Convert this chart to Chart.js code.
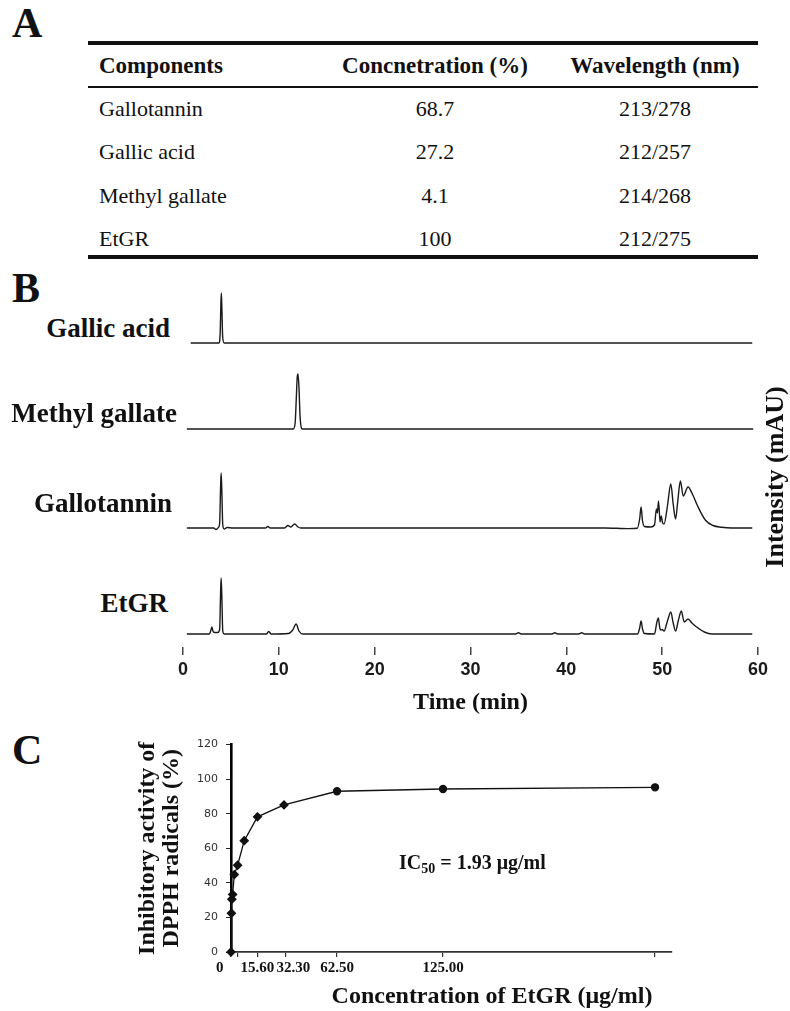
<!DOCTYPE html>
<html>
<head>
<meta charset="utf-8">
<script src="https://cdn.jsdelivr.net/npm/chart.js@4.4.1/dist/chart.umd.min.js"></script>
<style>
  html, body { margin: 0; padding: 0; background: #ffffff; }
  body { width: 790px; height: 1011px; position: relative; overflow: hidden;
         font-family: "Liberation Serif", "Times New Roman", serif; color: #111; }
  .t { position: absolute; white-space: nowrap; }
  .rule { position: absolute; background: #111; left: 88px; width: 670px; }
  canvas { position: absolute; }
  sub { font-size: 0.7em; vertical-align: -0.25em; line-height: 0; }
</style>
</head>
<body>
<canvas id="chartB" width="620" height="440" style="left:170px;top:280px;"></canvas>
<canvas id="chartC" width="560" height="281" style="left:130px;top:730px;"></canvas>
<script>
// ---------------- Panel A: table ----------------
const tableHeaders = ["Components", "Concnetration (%)", "Wavelength (nm)"];
const components = ["Gallotannin", "Gallic acid", "Methyl gallate", "EtGR"];
const concentrations = ["68.7", "27.2", "4.1", "100"];
const wavelengths = ["213/278", "212/257", "214/268", "212/275"];

// ---------------- Panel B: HPLC chromatograms (time in min, relative intensity) ----------------
const traceNames = ["Gallic acid", "Methyl gallate", "Gallotannin", "EtGR"];
const timeTicks = [0, 10, 20, 30, 40, 50, 60];

const gaTime = [0.8, 3.75, 3.88, 3.95, 4.0, 4.06, 4.14, 4.3, 59.4];
const gaInt  = [0, 0, 10, 38, 50, 34, 6, 0, 0];

const mgTime = [0.4, 11.5, 11.7, 11.82, 11.92, 12.0, 12.1, 12.22, 12.45, 59.5];
const mgInt  = [0, 0, 6, 30, 52, 55, 42, 12, 0, 0];

const gtTime = [0.4, 3.2, 3.45, 3.65, 3.82, 3.92, 3.98, 4.05, 4.15, 4.3, 4.6, 5.2, 8.6, 8.85, 9.1,
                10.6, 10.95, 11.25, 11.65, 12.0, 12.3, 44.0, 46.5, 47.4, 47.65, 47.8, 47.95, 48.15,
                48.8, 49.2, 49.4, 49.5, 49.62, 49.78, 49.9, 50.05, 50.2, 50.55, 50.9, 51.15, 51.4,
                51.62, 51.9, 52.2, 52.7, 53.2, 53.7, 54.5, 55.3, 56.2, 57.2, 59.4];
const gtInt  = [0, 0, -1.5, 0, 4, 40, 55, 38, 3, -1, 0.5, 0, 0, 1.5, 0,
                0, 2.5, 1, 4, 1, 0, 0, -0.6, -0.3, 9, 21, 7, 1.5,
                1, 3, 19, 15, 27, 6, 12, 5, 4, 22, 44, 24, 9,
                26, 47, 32, 41, 33, 22, 8, 2.5, 0.8, 0, 0];

const etTime = [0.4, 2.75, 2.92, 3.02, 3.12, 3.3, 3.6, 3.82, 3.92, 3.98, 4.05, 4.15, 4.3,
                8.7, 8.95, 9.2, 11.0, 11.45, 11.8, 12.1, 12.5, 34.7, 35.0, 35.3, 38.5, 38.8, 39.1,
                41.3, 41.6, 41.9, 47.45, 47.65, 47.8, 47.95, 48.15, 49.2, 49.45, 49.6, 49.75, 49.88,
                50.0, 50.2, 50.55, 50.9, 51.15, 51.4, 51.7, 52.0, 52.3, 52.7, 53.1, 53.6, 54.4, 55.2, 59.4];
const etInt  = [0, 0, 4, 7, 3, 1.5, 1.5, 4, 40, 56, 38, 3, 0,
                0, 2.5, 0, 0.5, 4, 10, 3, 0, 0, 1.2, 0, 0, 1.2, 0,
                0, 1.2, 0, 0, 6, 13, 5, 0.5, 0, 12, 16, 6, 4,
                4.5, 3, 13, 22, 11, 3, 14, 23, 12, 15, 11, 7, 2, 0, 0];

// ---------------- Panel C: DPPH radical scavenging ----------------
const dpphConc   = [0, 0.24, 0.49, 0.98, 1.95, 3.9, 7.8, 15.6, 31.25, 62.5, 125, 250];
const dpphInhib  = [0, 22.4, 30.5, 33.3, 44.8, 50.2, 64.4, 78.2, 85.1, 93.0, 94.3, 95.3];
const concTickValues = [0, 3.9, 15.6, 32.3, 62.5, 125, 250];
const concTickLabels = ["0\u2002\u2002\u2002", "", "15.60", "\u2002\u200232.30", "62.50", "125.00", ""];
const inhibTicks = [0, 20, 40, 60, 80, 100, 120];

// ---------------- helpers for text ----------------
function addText(content, x, y, o) {
  o = o || {};
  const d = document.createElement('div');
  d.className = 't';
  const size = o.size || 20;
  const lh = Math.round(size * 1.3);
  d.style.fontSize = size + 'px';
  d.style.lineHeight = lh + 'px';
  d.style.fontWeight = o.bold ? 'bold' : 'normal';
  if (o.family) d.style.fontFamily = o.family;
  if (o.html) d.innerHTML = content; else d.textContent = content;
  d.style.top = (y - lh / 2) + 'px';
  if (o.rotate) {
    d.style.left = (x - 200) + 'px';
    d.style.width = '400px';
    d.style.textAlign = 'center';
    d.style.transform = 'rotate(-90deg)';
    d.style.transformOrigin = '50% 50%';
  } else if (o.align === 'center') {
    d.style.left = (x - 300) + 'px';
    d.style.width = '600px';
    d.style.textAlign = 'center';
  } else if (o.align === 'right') {
    d.style.right = (790 - x) + 'px';
    d.style.textAlign = 'right';
  } else {
    d.style.left = x + 'px';
  }
  document.body.appendChild(d);
  return d;
}
function addRule(y, h) {
  const r = document.createElement('div');
  r.className = 'rule';
  r.style.top = (y - h / 2) + 'px';
  r.style.height = h + 'px';
  document.body.appendChild(r);
}

// Panel letters
addText("A", 12, 23, {size: 42, bold: true});
addText("B", 12, 288, {size: 42, bold: true});
addText("C", 12, 750, {size: 42, bold: true});

// Panel A table
addRule(43, 4);
addRule(87, 2.5);
addRule(257, 4);
const colX = [99, 435, 655];
const headerY = 66;
const rowY = [108, 151, 195, 238];
addText(tableHeaders[0], colX[0], headerY, {size: 23, bold: true});
addText(tableHeaders[1], colX[1], headerY, {size: 23, bold: true, align: 'center'});
addText(tableHeaders[2], colX[2], headerY, {size: 23, bold: true, align: 'center'});
components.forEach((c, i) => {
  addText(c, colX[0], rowY[i], {size: 22});
  addText(concentrations[i], colX[1], rowY[i], {size: 22, align: 'center'});
  addText(wavelengths[i], colX[2], rowY[i], {size: 22, align: 'center'});
});

// Panel B trace labels (right-aligned) and y label
const traceLabelPos = [[170, 328], [177, 413], [172, 503], [168, 603]];
traceNames.forEach((n, i) => addText(n, traceLabelPos[i][0], traceLabelPos[i][1], {size: 27, bold: true, align: 'right'}));
addText("Intensity (mAU)", 775, 477, {size: 26, bold: true, rotate: true});

// Panel C annotation and x title
addText("IC<sub>50</sub> = 1.93 \u03bcg/ml", 399, 862, {size: 20, bold: true, html: true});
addText("Concentration of EtGR (\u03bcg/ml)", 492, 995, {size: 24, bold: true, align: 'center'});

// ---------------- Chart B ----------------
const toXY = (t, v) => t.map((x, i) => ({x: x, y: v[i]}));
const chromSets = [
  {label: traceNames[3], data: toXY(etTime, etInt), yAxisID: 'yEt'},
  {label: traceNames[2], data: toXY(gtTime, gtInt), yAxisID: 'yGT'},
  {label: traceNames[1], data: toXY(mgTime, mgInt), yAxisID: 'yMG'},
  {label: traceNames[0], data: toXY(gaTime, gaInt), yAxisID: 'yGA'}
];
const bandRanges = {yEt: [-13, 77.5], yGT: [-28.5, 62], yMG: [-37, 53.5], yGA: [-32.5, 58]};
const scalesB = {
  x: {
    type: 'linear', min: 0, max: 60,
    afterBuildTicks: s => { s.ticks = timeTicks.map(v => ({value: v})); },
    border: {display: false},
    grid: {display: true, drawOnChartArea: false, drawTicks: true, tickLength: 8, color: '#444', lineWidth: 1.5},
    ticks: {color: '#1a1a1a', padding: 4, font: {family: '"Liberation Sans", Arial, sans-serif', size: 18, weight: 'bold'}, maxRotation: 0, autoSkip: false},
    title: {display: true, text: 'Time (min)', color: '#111', padding: {top: 0, bottom: 5},
            font: {family: '"Liberation Serif", "Times New Roman", serif', size: 24, weight: 'bold', lineHeight: 1}},
    afterFit: s => { s.height = 73; }
  }
};
Object.keys(bandRanges).forEach(k => {
  scalesB[k] = {type: 'linear', position: 'left', stack: 'chrom', stackWeight: 1, display: false,
                min: bandRanges[k][0], max: bandRanges[k][1]};
});
new Chart(document.getElementById('chartB'), {
  type: 'line',
  data: {datasets: chromSets.map(d => Object.assign(d, {
    borderColor: '#1a1a1a', borderWidth: 1.4, pointRadius: 0, fill: false,
    cubicInterpolationMode: 'monotone', clip: false
  }))},
  options: {
    responsive: false, animation: false, devicePixelRatio: 1,
    layout: {padding: {left: 13, right: 32, top: 5, bottom: 0}},
    plugins: {legend: {display: false}, tooltip: {enabled: false}},
    scales: scalesB
  }
});

// ---------------- Chart C ----------------
new Chart(document.getElementById('chartC'), {
  type: 'line',
  data: {datasets: [{
    label: 'Inhibitory activity',
    data: dpphConc.map((c, i) => ({x: c, y: dpphInhib[i]})),
    borderColor: '#111', borderWidth: 1.3,
    pointBackgroundColor: '#111', pointBorderColor: '#111',
    pointStyle: ctx => ctx.dataIndex >= 9 ? 'circle' : 'rectRot',
    pointRadius: ctx => ctx.dataIndex >= 9 ? 3.5 : 4,
    tension: 0, clip: false
  }]},
  options: {
    responsive: false, animation: false, devicePixelRatio: 1,
    layout: {padding: {left: 0, right: 18, top: 13, bottom: 0}},
    plugins: {legend: {display: false}, tooltip: {enabled: false}},
    scales: {
      x: {
        type: 'linear', min: 0, max: 260,
        afterBuildTicks: s => { s.ticks = concTickValues.map(v => ({value: v})); },
        border: {display: true, color: '#333', width: 1.8},
        grid: {display: true, drawOnChartArea: false, drawTicks: true, tickLength: 5, color: '#333', lineWidth: 1.2},
        ticks: {callback: (v, i) => concTickLabels[i], color: '#111', padding: 2, autoSkip: false, maxRotation: 0,
                font: {family: '"Liberation Serif", "Times New Roman", serif', size: 15, weight: 'bold'}},
        afterFit: s => { s.height = 59; }
      },
      y: {
        type: 'linear', min: 0, max: 120,
        afterBuildTicks: s => { s.ticks = inhibTicks.map(v => ({value: v})); },
        border: {display: true, color: '#000', width: 2.6},
        grid: {display: true, drawOnChartArea: false, drawTicks: true, tickLength: 5, color: '#222', lineWidth: 1},
        ticks: {color: '#333', padding: 8, font: {family: '"DejaVu Sans", Verdana, sans-serif', size: 11}},
        title: {display: true, text: ['Inhibitory activity of', 'DPPH radicals (%)'], color: '#111',
                padding: {top: 6, bottom: 0},
                font: {family: '"Liberation Serif", "Times New Roman", serif', size: 24, weight: 'bold', lineHeight: 1}},
        afterFit: s => { s.width = 101; }
      }
    }
  }
});
</script>
</body>
</html>
